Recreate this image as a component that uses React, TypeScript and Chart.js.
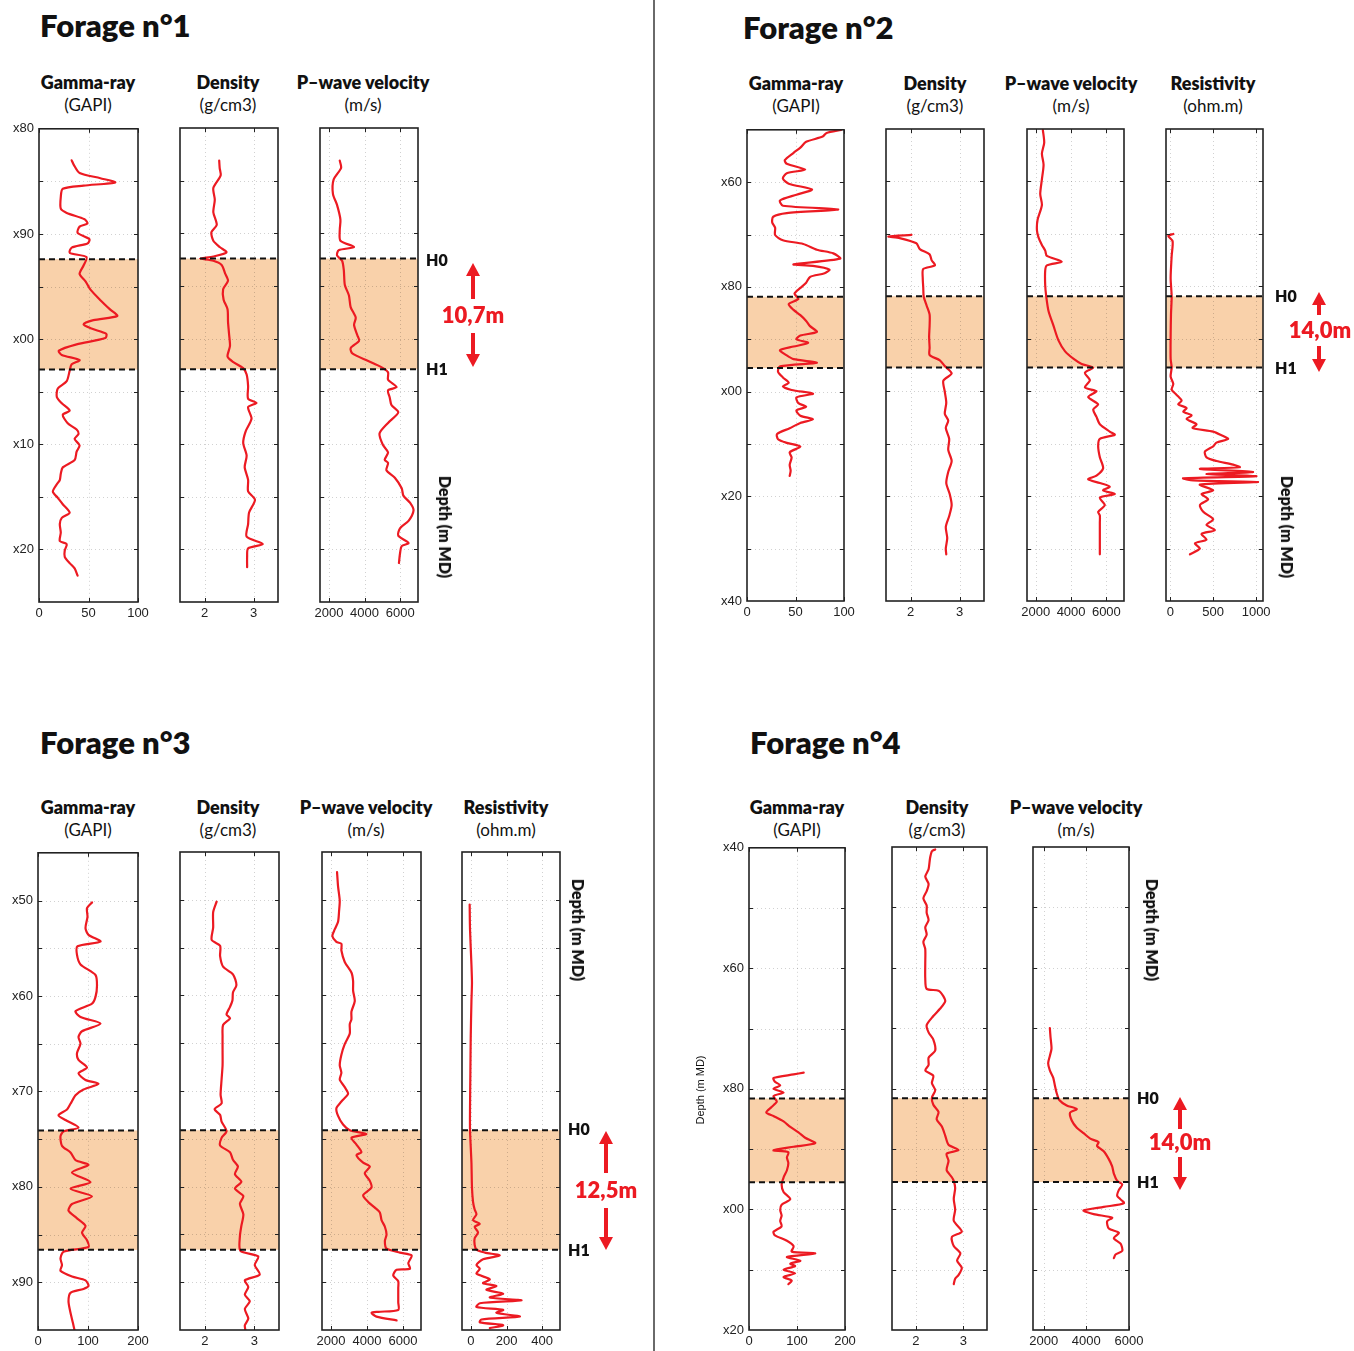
import React, { useEffect, useRef } from 'react';
import { Chart, registerables } from 'chart.js';
Chart.register(...registerables);

type Pt = [number, number]; // [depth (m), value]

// ---------------- Forage n°1 ----------------
const f1Gamma: Pt[] = [[83.0,33],[83.4,35],[84.2,41],[84.7,62],[85.1,77],[85.4,45],[85.7,24],[86.5,22],[87.6,22],[88.0,28],[88.6,46],[89.0,49],[89.3,41],[89.9,39],[90.5,51],[90.9,49],[91.3,33],[91.8,31],[92.2,48],[93.0,45],[93.8,41],[94.5,47],[95.3,52],[96.3,62],[97.2,72],[97.8,79],[98.2,55],[98.6,45],[99.0,53],[99.5,68],[99.9,67],[100.5,38],[101.1,20],[101.5,23],[102.0,41],[102.4,33],[103.0,31],[104.0,28],[104.7,19],[105.5,18],[106.1,23],[106.8,31],[107.2,24],[108.0,29],[108.6,38],[109.0,40],[109.5,36],[110.1,41],[110.7,38],[111.5,36],[112.2,24],[112.8,22],[113.4,21],[113.8,18],[114.5,14],[115.1,19],[115.7,24],[116.5,31],[117.0,23],[117.6,21],[118.4,22],[119.2,21],[119.5,28],[120.1,26],[120.7,26],[121.3,31],[121.8,36],[122.5,39]];
const f1Density: Pt[] = [[83.1,2.30],[83.8,2.31],[84.5,2.33],[85.7,2.18],[86.8,2.21],[88.0,2.18],[89.2,2.25],[89.9,2.14],[90.7,2.18],[91.3,2.31],[91.8,2.45],[92.2,2.18],[92.4,1.91],[92.6,2.18],[93.0,2.35],[93.8,2.42],[94.5,2.48],[95.3,2.38],[96.3,2.39],[97.2,2.47],[98.4,2.48],[99.5,2.50],[100.7,2.52],[101.7,2.47],[102.2,2.58],[102.8,2.79],[103.4,2.86],[104.5,2.89],[105.7,2.89],[106.1,3.06],[106.5,2.89],[107.6,2.96],[108.8,2.84],[109.9,2.79],[111.1,2.86],[112.2,2.82],[113.4,2.89],[114.5,2.89],[115.3,3.03],[116.5,2.91],[117.6,2.89],[118.8,2.86],[119.5,3.19],[119.9,2.89],[120.7,2.87],[121.7,2.87]];
const f1Vp: Pt[] = [[83.1,2608],[83.8,2684],[84.9,2264],[86.25,2226],[87.3,2455],[88.7,2646],[89.7,2608],[90.7,2646],[91.3,3410],[91.6,2550],[92.1,2455],[92.6,2740],[93.5,2837],[94.9,2894],[95.9,3124],[97.0,3220],[98.0,3505],[98.7,3410],[99.7,3600],[100.2,3697],[100.9,3220],[101.4,3315],[102.1,4175],[102.7,4940],[103.2,5320],[103.9,5320],[104.6,5800],[104.9,5320],[105.6,5415],[106.3,5510],[107.0,5893],[108.0,5320],[109.0,4840],[110.1,5035],[110.8,5320],[111.5,5130],[111.8,5320],[112.5,5225],[113.2,5700],[114.2,6085],[114.9,6180],[115.6,6560],[116.3,6750],[117.3,6470],[118.0,5990],[118.7,5890],[119.4,6470],[119.7,6085],[120.4,5990],[121.3,5930]];
const f1Horizons = [92.4, 102.9];

// ---------------- Forage n°2 ----------------
const f2Gamma: Pt[] = [[50.0,97],[50.6,82],[51.3,78],[52.3,61],[53.4,55],[54.4,48],[55.8,39],[56.5,41],[57.6,60],[58.3,41],[59.3,37],[60.3,43],[61.4,67],[62.4,51],[63.5,34],[64.5,37],[65.2,94],[65.9,41],[66.6,27],[67.7,26],[68.7,29],[70.1,29],[71.1,37],[71.8,58],[72.9,72],[73.6,89],[74.6,96],[75.7,48],[76.0,68],[76.7,85],[77.4,80],[78.1,65],[79.2,61],[80.2,55],[81.3,49],[82.3,53],[83.3,43],[84.4,48],[85.4,55],[86.5,61],[87.5,65],[88.6,72],[89.3,55],[90.0,51],[90.7,63],[91.4,48],[92.1,34],[93.1,41],[93.8,48],[94.5,72],[95.2,34],[96.2,32],[97.3,37],[98.3,43],[99.0,37],[99.7,46],[100.4,68],[101.1,51],[102.2,53],[102.9,61],[103.6,51],[104.6,55],[105.3,68],[106.0,55],[107.0,44],[108.1,31],[109.1,32],[109.8,41],[110.5,55],[111.6,44],[112.6,46],[114.0,44],[115.1,45],[116.1,44]];
const f2Density: Pt[] = [[70.2,2.02],[70.5,1.55],[70.8,1.78],[71.8,2.12],[72.9,2.19],[73.9,2.39],[75.0,2.43],[76.0,2.50],[76.7,2.26],[78.5,2.25],[80.2,2.26],[82.0,2.27],[83.7,2.33],[85.4,2.39],[87.5,2.39],[89.6,2.38],[91.7,2.39],[93.1,2.39],[94.1,2.60],[95.2,2.70],[96.6,2.84],[98.0,2.67],[100.1,2.70],[102.2,2.73],[104.3,2.70],[105.6,2.77],[107.0,2.72],[109.1,2.79],[111.2,2.77],[113.3,2.84],[115.4,2.77],[117.5,2.73],[119.6,2.80],[121.7,2.84],[123.8,2.79],[125.9,2.72],[128.0,2.75],[130.0,2.72],[131.1,2.73]];
const f2Vp: Pt[] = [[50.2,2400],[52.6,2476],[54.7,2345],[56.8,2440],[59.6,2345],[62.4,2250],[64.5,2345],[67.3,2100],[69.3,2063],[70.7,2157],[72.1,2345],[73.2,2532],[74.2,2626],[75.3,3470],[76.0,2626],[77.0,2532],[79.8,2532],[81.9,2590],[84.7,2720],[87.5,3000],[90.3,3283],[92.4,3660],[93.8,4128],[94.8,4597],[95.5,5254],[96.5,4785],[97.9,5066],[99.3,4785],[100.0,5440],[101.1,4970],[102.5,5535],[103.5,5254],[104.9,5440],[106.3,5630],[107.7,6190],[108.3,6475],[109.1,5630],[110.5,5535],[112.6,5630],[114.7,5817],[116.1,5440],[116.8,4970],[117.5,5630],[118.2,6190],[118.9,5817],[119.6,6475],[120.3,5630],[121.7,5910],[123.0,5535],[123.7,5630],[125.1,5630],[127.2,5630],[129.3,5630],[131.1,5630]];
const f2Resistivity: Pt[] = [[70.0,35],[70.4,-23],[71.4,27],[74.2,16],[78.4,4],[81.9,16],[85.4,8],[89.6,4],[93.8,4],[95.5,16],[97.2,4],[98.6,35],[99.7,16],[100.7,74],[101.8,132],[102.5,93],[103.2,190],[103.9,151],[104.6,248],[105.3,190],[106.3,306],[107.0,260],[107.7,500],[108.4,596],[109.1,674],[109.8,538],[110.5,500],[111.5,403],[112.6,422],[113.3,538],[114.0,732],[114.5,809],[114.8,345],[115.4,964],[115.8,422],[116.2,1003],[116.6,151],[117.0,267],[117.3,1022],[117.8,345],[118.9,500],[119.6,364],[120.6,441],[121.7,345],[123.0,384],[124.4,500],[125.5,422],[126.5,519],[127.2,364],[128.3,422],[129.0,287],[130.0,345],[131.1,229]];
const f2Horizons = [81.9, 95.5];

// ---------------- Forage n°3 ----------------
const f3Gamma: Pt[] = [[50.2,108],[50.8,98],[51.7,99],[52.9,95],[53.6,101],[54.3,125],[54.8,79],[55.7,78],[56.7,85],[57.8,115],[58.9,118],[60.1,115],[60.8,108],[61.6,75],[62.2,85],[62.9,125],[63.7,88],[64.3,81],[65.0,85],[66.0,78],[66.7,81],[67.5,98],[68.1,81],[68.8,95],[69.2,121],[69.8,91],[70.4,75],[71.3,65],[71.9,58],[72.5,41],[73.0,55],[73.8,81],[74.2,51],[74.7,45],[75.7,48],[76.4,65],[77.2,75],[77.7,101],[78.5,68],[79.5,105],[80.2,65],[81.0,108],[81.8,68],[82.5,61],[83.3,78],[84.1,95],[84.8,88],[85.6,98],[86.3,101],[86.8,51],[87.5,45],[88.2,48],[88.8,45],[89.4,68],[89.8,95],[90.4,101],[90.7,91],[91.1,65],[92.0,61],[93.2,65],[94.3,70],[95.0,73]];
const f3Density: Pt[] = [[50.2,2.24],[51.3,2.17],[52.9,2.17],[54.2,2.14],[54.8,2.31],[55.9,2.31],[57.0,2.37],[57.8,2.57],[58.9,2.64],[59.7,2.57],[60.5,2.56],[61.2,2.51],[62.0,2.44],[62.4,2.51],[63.1,2.37],[64.3,2.36],[65.8,2.36],[67.3,2.36],[68.8,2.34],[70.4,2.32],[71.3,2.34],[71.9,2.20],[72.5,2.31],[73.2,2.34],[74.2,2.44],[74.9,2.34],[75.7,2.31],[76.4,2.51],[77.2,2.57],[77.9,2.67],[78.7,2.61],[79.5,2.74],[80.2,2.61],[81.0,2.78],[81.8,2.71],[82.9,2.78],[84.1,2.74],[85.2,2.71],[86.7,2.72],[87.3,3.08],[88.2,3.01],[89.2,3.11],[89.8,2.81],[90.5,2.88],[91.3,2.81],[92.0,2.91],[92.8,2.81],[93.8,2.88],[94.5,2.81],[95.0,2.82]];
const f3Vp: Pt[] = [[47.1,2336],[48.6,2392],[50.1,2485],[51.2,2448],[52.3,2392],[53.1,2206],[53.8,2076],[54.4,2299],[54.6,2578],[55.3,2578],[56.5,2763],[57.6,3135],[58.5,3228],[59.5,3228],[60.6,3321],[61.7,3135],[62.5,3135],[63.0,3042],[64.0,3042],[65.1,2763],[66.2,2578],[67.3,2485],[68.1,2578],[68.8,2485],[69.6,2763],[70.3,2949],[71.1,2578],[71.8,2299],[72.6,2392],[73.5,2670],[74.1,3042],[74.5,3971],[74.9,3135],[75.6,3414],[76.4,3692],[76.7,3414],[77.5,3785],[77.9,4157],[78.6,3878],[79.4,4157],[80.1,4250],[80.9,3785],[81.6,4064],[82.2,4436],[82.7,4714],[83.5,4807],[84.2,4993],[85.0,5086],[85.7,4993],[86.5,5086],[86.9,5829],[87.2,6480],[88.0,6294],[88.6,6387],[88.7,5643],[89.3,5457],[89.9,5736],[90.6,5736],[91.4,5736],[92.1,5736],[92.9,5736],[93.1,4621],[93.2,4250],[93.6,4528],[94.0,5643]];
const f3Resistivity: Pt[] = [[50.5,-7],[53.1,-5],[56.8,3],[58.7,6],[60.6,3],[64.3,-1],[68.1,-3],[71.8,-5],[74.1,-5],[77.5,3],[80.1,6],[81.6,12],[82.4,21],[82.9,31],[83.5,12],[83.9,50],[84.2,21],[84.8,40],[85.4,21],[86.1,21],[86.6,31],[86.9,78],[87.2,162],[87.6,68],[88.2,31],[88.6,50],[89.1,31],[89.7,106],[90.1,68],[90.4,143],[90.8,87],[91.2,181],[91.6,106],[91.9,284],[92.2,50],[92.6,31],[92.9,181],[93.2,143],[93.6,275],[93.9,59],[94.2,50],[94.5,181],[94.8,106]];
const f3Horizons = [74.1, 86.6];

// ---------------- Forage n°4 ----------------
const f4Gamma: Pt[] = [[77.3,114],[77.6,93],[78.2,51],[78.8,54],[79.4,65],[80.0,51],[80.6,72],[81.2,51],[82.1,58],[83.0,47],[83.9,36],[84.5,51],[85.4,72],[86.3,86],[87.2,103],[88.1,117],[89.0,138],[89.6,93],[90.2,51],[90.5,82],[91.4,79],[92.3,82],[93.5,79],[94.7,72],[95.9,68],[97.1,72],[98.3,86],[99.2,68],[100.1,65],[101.0,68],[101.9,65],[102.8,68],[103.7,51],[104.3,54],[105.2,79],[106.1,93],[107.0,89],[107.3,138],[107.9,79],[108.5,107],[109.0,86],[109.4,96],[110.0,72],[110.6,96],[111.2,72],[111.8,89],[112.4,82]];
const f4Density: Pt[] = [[40.4,2.41],[40.7,2.34],[41.9,2.30],[43.7,2.27],[44.9,2.20],[46.1,2.27],[47.3,2.23],[48.5,2.16],[49.7,2.23],[50.9,2.23],[52.1,2.27],[53.3,2.20],[54.5,2.23],[55.7,2.16],[56.9,2.20],[59.3,2.20],[61.7,2.20],[63.5,2.23],[63.8,2.48],[64.7,2.58],[65.6,2.62],[66.8,2.51],[68.0,2.37],[69.5,2.23],[70.7,2.27],[71.9,2.37],[73.7,2.41],[74.9,2.27],[76.1,2.27],[77.0,2.20],[77.9,2.37],[79.1,2.34],[80.3,2.41],[81.5,2.34],[82.7,2.37],[83.9,2.48],[85.1,2.44],[86.3,2.55],[87.8,2.62],[89.3,2.69],[90.2,2.90],[90.8,2.65],[92.0,2.69],[93.5,2.65],[94.7,2.76],[95.3,2.80],[96.5,2.83],[98.3,2.80],[100.1,2.83],[101.9,2.80],[103.7,2.97],[104.6,2.76],[106.1,2.80],[107.3,2.94],[108.5,2.87],[109.7,2.97],[110.9,2.90],[111.5,2.83],[112.4,2.80]];
const f4Vp: Pt[] = [[70.0,2290],[71.5,2321],[73.4,2368],[74.6,2290],[75.8,2210],[77.0,2290],[78.2,2447],[79.5,2526],[80.7,2605],[81.9,2731],[82.8,3079],[83.4,3553],[84.0,3237],[85.3,3316],[86.5,3553],[87.4,3869],[88.3,4184],[88.9,4579],[89.5,4500],[90.4,4816],[91.7,5053],[92.9,5211],[94.1,5290],[95.3,5448],[95.9,5684],[96.8,5526],[97.8,5448],[99.0,5763],[99.6,4816],[100.2,3869],[100.8,4342],[101.4,5211],[102.0,4974],[103.2,5053],[103.9,5526],[104.8,5290],[105.7,5605],[106.9,5684],[107.5,5369],[108.1,5290]];
const f4Horizons = [81.6, 95.5];

// ---------------- axes ----------------
const gammaTicks100 = [0, 50, 100];
const gammaTicks200 = [0, 100, 200];
const densityTicks = [2, 3];
const vpTicks = [2000, 4000, 6000];
const resTicks2 = [0, 500, 1000];
const resTicks3 = [0, 200, 400];

const RED = '#ec1a22';
const BAND = '#f9d1aa';
const HEAD_FONT = 'Lato, "Open Sans", sans-serif';
const TICK_FAMILY = '"Liberation Sans", Arial, sans-serif';

const depthLabel = (v: number) => 'x' + String(Math.round(v) % 100).padStart(2, '0');

interface TrackDef {
  left: number; right: number; top: number; bottom: number;
  xMin: number; xMax: number; xTicks: number[];
  yMin: number; yMax: number; yMarks: number[]; yLabels: number[] | null;
  horizons: number[];
  data: Pt[];
}

function Track({ t }: { t: TrackDef }) {
  const ref = useRef<HTMLCanvasElement>(null);
  const padL = t.yLabels ? 48 : 26;
  const padR = 26, padT = 12, padB = 26;
  const w = padL + (t.right - t.left) + padR;
  const h = padT + (t.bottom - t.top) + padB;

  useEffect(() => {
    const overlay = {
      id: 'logOverlay',
      beforeDatasetsDraw(chart: any) {
        const { ctx, chartArea: a, scales } = chart;
        const sx = scales.x, sy = scales.y;
        ctx.save();
        const y0 = sy.getPixelForValue(t.horizons[0]);
        const y1 = sy.getPixelForValue(t.horizons[1]);
        ctx.fillStyle = BAND;
        ctx.fillRect(a.left, y0, a.right - a.left, y1 - y0);
        ctx.strokeStyle = 'rgba(0,0,0,0.18)';
        ctx.lineWidth = 1;
        ctx.setLineDash([1, 3]);
        for (const g of t.xTicks) {
          const px = Math.round(sx.getPixelForValue(g)) + 0.5;
          if (px <= a.left + 2 || px >= a.right - 2) continue;
          ctx.beginPath(); ctx.moveTo(px, a.top); ctx.lineTo(px, a.bottom); ctx.stroke();
        }
        for (const m of t.yMarks) {
          const py = Math.round(sy.getPixelForValue(m)) + 0.5;
          ctx.beginPath(); ctx.moveTo(a.left, py); ctx.lineTo(a.right, py); ctx.stroke();
        }
        ctx.restore();
      },
      afterDatasetsDraw(chart: any) {
        const { ctx, chartArea: a, scales } = chart;
        const sx = scales.x, sy = scales.y;
        ctx.save();
        ctx.strokeStyle = '#111';
        ctx.lineWidth = 2;
        ctx.setLineDash([6, 4]);
        for (const hz of t.horizons) {
          const py = sy.getPixelForValue(hz);
          ctx.beginPath(); ctx.moveTo(a.left, py); ctx.lineTo(a.right, py); ctx.stroke();
        }
        ctx.setLineDash([]);
        ctx.strokeStyle = '#222';
        ctx.lineWidth = 1.6;
        ctx.strokeRect(a.left, a.top, a.right - a.left, a.bottom - a.top);
        ctx.lineWidth = 1;
        const tl = 4;
        for (const m of t.yMarks) {
          const py = Math.round(sy.getPixelForValue(m)) + 0.5;
          ctx.beginPath();
          ctx.moveTo(a.left, py); ctx.lineTo(a.left + tl, py);
          ctx.moveTo(a.right, py); ctx.lineTo(a.right - tl, py);
          ctx.stroke();
        }
        for (const g of t.xTicks) {
          const px = Math.round(sx.getPixelForValue(g)) + 0.5;
          ctx.beginPath();
          ctx.moveTo(px, a.bottom); ctx.lineTo(px, a.bottom - tl);
          ctx.moveTo(px, a.top); ctx.lineTo(px, a.top + tl);
          ctx.stroke();
        }
        ctx.restore();
      },
    };

    const chart = new Chart(ref.current as HTMLCanvasElement, {
      type: 'line',
      data: {
        datasets: [{
          data: t.data.map(([d, v]) => ({ x: v, y: d })),
          borderColor: RED,
          borderWidth: 2.2,
          pointRadius: 0,
          fill: false,
          tension: 0.25,
          borderJoinStyle: 'round',
          borderCapStyle: 'round',
        }],
      },
      options: {
        responsive: false,
        animation: false,
        indexAxis: 'y',
        events: [],
        layout: { padding: { left: 0, right: padR, top: padT, bottom: 0 } },
        plugins: { legend: { display: false }, tooltip: { enabled: false } },
        scales: {
          x: {
            type: 'linear', position: 'bottom', min: t.xMin, max: t.xMax,
            grid: { display: false, drawTicks: false }, border: { display: false },
            ticks: { color: '#222', font: { family: TICK_FAMILY, size: 13 }, padding: 4, maxRotation: 0, autoSkip: false, callback: (v: any) => String(v) },
            afterBuildTicks: (s: any) => { s.ticks = t.xTicks.map((v) => ({ value: v })); },
            afterFit: (s: any) => { s.height = padB; },
          },
          y: {
            type: 'linear', position: 'left', reverse: true, min: t.yMin, max: t.yMax,
            grid: { display: false, drawTicks: false }, border: { display: false },
            ticks: { display: !!t.yLabels, color: '#222', font: { family: TICK_FAMILY, size: 13 }, padding: 5, autoSkip: false, callback: (v: any) => depthLabel(Number(v)) },
            afterBuildTicks: (s: any) => { s.ticks = (t.yLabels || []).map((v) => ({ value: v })); },
            afterFit: (s: any) => { s.width = padL; },
          },
        },
      } as any,
      plugins: [overlay as any],
    });
    return () => chart.destroy();
  }, []);

  return (
    <canvas
      ref={ref}
      width={w}
      height={h}
      style={{ position: 'absolute', left: t.left - padL, top: t.top - padT, width: w, height: h }}
    />
  );
}

function Txt(props: { x: number; y: number; children: any; size: number; weight?: number; color?: string; align?: 'left' | 'center'; rotate?: number; family?: string }) {
  const { x, y, children, size, weight = 400, color = '#111', align = 'center', rotate = 0, family = HEAD_FONT } = props;
  const tx = align === 'center' ? '-50%' : '0';
  return (
    <div style={{ position: 'absolute', left: x, top: y, transform: `translate(${tx}, -50%) rotate(${rotate}deg)`, fontSize: size, fontWeight: weight, color, fontFamily: family, whiteSpace: 'nowrap', lineHeight: 1 }}>
      {children}
    </div>
  );
}

function Arrow({ x, tail, tip }: { x: number; tail: number; tip: number }) {
  const dir = tip < tail ? -1 : 1;
  const headLen = 13, headHalf = 7;
  const base = tip - dir * headLen;
  return (
    <g fill={RED}>
      <rect x={x - 2} y={Math.min(tail, base)} width={4} height={Math.abs(base - tail) + 1} />
      <polygon points={`${x},${tip} ${x - headHalf},${base} ${x + headHalf},${base}`} />
    </g>
  );
}

function Header({ x, y, name, unit }: { x: number; y: number; name: string; unit: string }) {
  return (
    <>
      <Txt x={x} y={y} size={18} weight={800}>{name}</Txt>
      <Txt x={x} y={y + 22} size={17}>{unit}</Txt>
    </>
  );
}

const P1 = { top: 128, bottom: 602, yMin: 80, yMax: 125, yMarks: [85, 90, 95, 100, 105, 110, 115, 120], yLabels: [80, 90, 100, 110, 120] };
const P2 = { top: 129, bottom: 601, yMin: 50, yMax: 140, yMarks: [60, 70, 80, 90, 100, 110, 120, 130], yLabels: [60, 80, 100, 120, 140] };
const P3 = { top: 852, bottom: 1330, yMin: 45, yMax: 95, yMarks: [50, 55, 60, 65, 70, 75, 80, 85, 90], yLabels: [50, 60, 70, 80, 90] };
const P4 = { top: 847, bottom: 1330, yMin: 40, yMax: 120, yMarks: [50, 60, 70, 80, 90, 100, 110], yLabels: [40, 60, 80, 100, 120] };

function mk(p: any, left: number, right: number, xMin: number, xMax: number, xTicks: number[], data: Pt[], horizons: number[], labeled: boolean): TrackDef {
  return { left, right, top: p.top, bottom: p.bottom, xMin, xMax, xTicks, yMin: p.yMin, yMax: p.yMax, yMarks: p.yMarks, yLabels: labeled ? p.yLabels : null, horizons, data };
}

const tracks: TrackDef[] = [
  mk(P1, 39, 138, 0, 100, gammaTicks100, f1Gamma, f1Horizons, true),
  mk(P1, 180, 278, 1.5, 3.5, densityTicks, f1Density, f1Horizons, false),
  mk(P1, 320, 418, 1500, 7000, vpTicks, f1Vp, f1Horizons, false),

  mk(P2, 747, 844, 0, 100, gammaTicks100, f2Gamma, f2Horizons, true),
  mk(P2, 886, 984, 1.5, 3.5, densityTicks, f2Density, f2Horizons, false),
  mk(P2, 1027, 1124, 1500, 7000, vpTicks, f2Vp, f2Horizons, false),
  mk(P2, 1166, 1263, -50, 1080, resTicks2, f2Resistivity, f2Horizons, false),

  mk(P3, 38, 138, 0, 200, gammaTicks200, f3Gamma, f3Horizons, true),
  mk(P3, 180, 279, 1.5, 3.5, densityTicks, f3Density, f3Horizons, false),
  mk(P3, 322, 421, 1500, 7000, vpTicks, f3Vp, f3Horizons, false),
  mk(P3, 462, 560, -50, 500, resTicks3, f3Resistivity, f3Horizons, false),

  mk(P4, 749, 845, 0, 200, gammaTicks200, f4Gamma, f4Horizons, true),
  mk(P4, 892, 987, 1.5, 3.5, densityTicks, f4Density, f4Horizons, false),
  mk(P4, 1033, 1129, 1500, 6000, vpTicks, f4Vp, f4Horizons, false),
];

export default function App() {
  return (
    <div style={{ position: 'absolute', left: 0, top: 0, width: 1354, height: 1351, overflow: 'hidden', background: '#fff' }}>
      <div style={{ position: 'absolute', left: 653, top: 0, width: 2, height: 1351, background: '#6a6a6a' }} />

      <Txt x={40} y={25} size={31} weight={800} align="left">Forage n°1</Txt>
      <Txt x={743} y={27} size={31} weight={800} align="left">Forage n°2</Txt>
      <Txt x={40} y={742} size={31} weight={800} align="left">Forage n°3</Txt>
      <Txt x={750} y={742} size={31} weight={800} align="left">Forage n°4</Txt>

      <Header x={88} y={82} name="Gamma-ray" unit="(GAPI)" />
      <Header x={228} y={82} name="Density" unit="(g/cm3)" />
      <Header x={363} y={82} name="P–wave velocity" unit="(m/s)" />

      <Header x={796} y={83} name="Gamma-ray" unit="(GAPI)" />
      <Header x={935} y={83} name="Density" unit="(g/cm3)" />
      <Header x={1071} y={83} name="P–wave velocity" unit="(m/s)" />
      <Header x={1213} y={83} name="Resistivity" unit="(ohm.m)" />

      <Header x={88} y={807} name="Gamma-ray" unit="(GAPI)" />
      <Header x={228} y={807} name="Density" unit="(g/cm3)" />
      <Header x={366} y={807} name="P–wave velocity" unit="(m/s)" />
      <Header x={506} y={807} name="Resistivity" unit="(ohm.m)" />

      <Header x={797} y={807} name="Gamma-ray" unit="(GAPI)" />
      <Header x={937} y={807} name="Density" unit="(g/cm3)" />
      <Header x={1076} y={807} name="P–wave velocity" unit="(m/s)" />

      {tracks.map((t, i) => <Track key={i} t={t} />)}

      <Txt x={426} y={260} size={16} weight={800} align="left">H0</Txt>
      <Txt x={426} y={369} size={16} weight={800} align="left">H1</Txt>
      <Txt x={1275} y={296} size={16} weight={800} align="left">H0</Txt>
      <Txt x={1275} y={368} size={16} weight={800} align="left">H1</Txt>
      <Txt x={568} y={1129} size={16} weight={800} align="left">H0</Txt>
      <Txt x={568} y={1250} size={16} weight={800} align="left">H1</Txt>
      <Txt x={1137} y={1098} size={16} weight={800} align="left">H0</Txt>
      <Txt x={1137} y={1182} size={16} weight={800} align="left">H1</Txt>

      <Txt x={473} y={315} size={22} weight={800} color={RED}>10,7m</Txt>
      <Txt x={1320} y={330} size={22} weight={800} color={RED}>14,0m</Txt>
      <Txt x={606} y={1190} size={22} weight={800} color={RED}>12,5m</Txt>
      <Txt x={1180} y={1142} size={22} weight={800} color={RED}>14,0m</Txt>

      <Txt x={445} y={527} size={16} weight={800} rotate={90}>Depth (m MD)</Txt>
      <Txt x={1287} y={527} size={16} weight={800} rotate={90}>Depth (m MD)</Txt>
      <Txt x={578} y={930} size={16} weight={800} rotate={90}>Depth (m MD)</Txt>
      <Txt x={1152} y={930} size={16} weight={800} rotate={90}>Depth (m MD)</Txt>
      <Txt x={700} y={1090} size={11} rotate={-90} family={TICK_FAMILY}>Depth (m MD)</Txt>

      <svg width={1354} height={1351} style={{ position: 'absolute', left: 0, top: 0, pointerEvents: 'none' }}>
        <Arrow x={473} tail={298} tip={263} />
        <Arrow x={473} tail={333} tip={367} />
        <Arrow x={1319} tail={314} tip={292} />
        <Arrow x={1319} tail={346} tip={372} />
        <Arrow x={606} tail={1172} tip={1131} />
        <Arrow x={606} tail={1208} tip={1250} />
        <Arrow x={1180} tail={1128} tip={1097} />
        <Arrow x={1180} tail={1157} tip={1190} />
      </svg>
    </div>
  );
}
